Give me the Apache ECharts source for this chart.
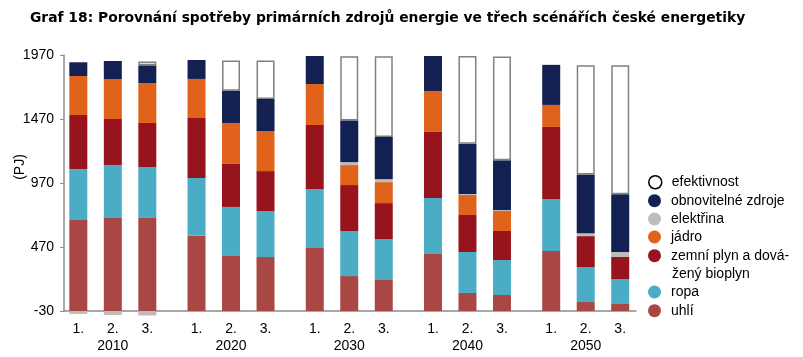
<!DOCTYPE html>
<html><head><meta charset="utf-8">
<script src="https://cdn.jsdelivr.net/npm/echarts@6/dist/echarts.min.js"></script>
<style>html,body{margin:0;padding:0;background:#fff}#c{width:803px;height:357px}</style>
</head><body><div id="c"></div>
<script>
// ---- data ----
const years = ['2010', '2020', '2030', '2040', '2050'];
const scenarioLabels = ['1.', '2.', '3.'];
const yTickLabels = ['-30', '470', '970', '1470', '1970'];
const titleText = 'Graf 18: Porovnání spotřeby primárních zdrojů energie ve třech scénářích české energetiky';
const sourceNames = ['uhlí', 'ropa', 'zemní plyn a dovážený bioplyn', 'jádro', 'elektřina', 'obnovitelné zdroje', 'efektivnost'];
// values per scenario (1., 2., 3.), for years 2010..2050 (PJ, above baseline)
const uhli        = [[711, 588, 492, 445, 469], [727, 430, 273, 141, 70], [727, 422, 242, 125, 55]];
const ropa        = [[398, 451, 461, 438, 406], [414, 383, 352, 320, 273], [398, 359, 320, 273, 195]];
const plyn        = [[422, 469, 500, 516, 563], [359, 336, 359, 289, 242], [344, 312, 281, 227, 172]];
const jadro       = [[305, 305, 320, 320, 172], [312, 320, 156, 156, 0], [312, 312, 164, 156, 0]];
const elektrina   = [[-23, 0, 0, 0, 0], [-31, 0, 23, 8, 23], [-35, 0, 23, 8, 39]];
const obnovitelne = [[107, 148, 219, 273, 313], [141, 252, 326, 393, 459], [138, 252, 330, 388, 451]];
const efektivnost = [[0, 0, 0, 0, 0], [0, 237, 502, 685, 852], [31, 300, 630, 812, 1008]];
const legendOrder = ['efektivnost', 'obnovitelné zdroje', 'elektřina', 'jádro', 'zemní plyn a dovážený bioplyn', 'ropa', 'uhlí'];
const gasLegendLines = ['zemní plyn a dová-', 'žený bioplyn'];

// ---- styles ----
const FONT = 'Liberation Sans, Arial, sans-serif';
const colors = {
  'uhlí': '#A94744',
  'ropa': '#4BACC6',
  'zemní plyn a dovážený bioplyn': '#97141D',
  'jádro': '#E0621B',
  'elektřina': '#BEBBBB',
  'obnovitelné zdroje': '#122052',
  'efektivnost': '#FFFFFF'
};
const valuesBySource = [uhli, ropa, plyn, jadro, elektrina, obnovitelne, efektivnost];

const BAR_W = 18, BAR_GAP_PX = 16.5;
const halfGroupPx = (3 * BAR_W + 2 * BAR_GAP_PX) / 2;
const pxPerDecade = 118.2;
const x0 = Date.UTC(2010, 0, 1);
const dec = Date.UTC(2020, 0, 1) - x0;
// axis extent (in decades from first year); ECharts v6 expands by half group width on each side
const extMinDec = -0.413 + halfGroupPx / pxPerDecade;
const extMaxDec = 4.426 - halfGroupPx / pxPerDecade;
const yearTs = years.map(y => Date.UTC(+y, 0, 1));

const series = [];
for (let s = 0; s < 3; s++) {
  sourceNames.forEach((name, k) => {
    const isEff = name === 'efektivnost';
    const ser = {
      type: 'bar',
      name: name,
      stack: 's' + s,
      barWidth: BAR_W,
      barGap: (BAR_GAP_PX / BAR_W * 100).toFixed(2) + '%',
      clip: false,
      animation: false,
      data: yearTs.map((t, i) => {
        const v = valuesBySource[k][s][i];
        return [t, (isEff && v === 0) ? null : v];
      }),
      itemStyle: isEff ? { color: '#FFFFFF', borderColor: '#808080', borderWidth: 1.5 } : { color: colors[name] },
      emphasis: { disabled: true }
    };
    if (name === 'uhlí') {
      ser.label = {
        show: true,
        position: 'bottom',
        distance: 10,
        fontFamily: FONT,
        fontSize: 14,
        lineHeight: 17,
        color: '#000',
        formatter: p => s === 1 ? scenarioLabels[s] + '\n' + years[p.dataIndex] : scenarioLabels[s]
      };
    }
    series.push(ser);
  });
}

const legendCenters = [182, 200.7, 219, 237, 255.7, 292, 310.7];
const legends = legendOrder.map((name, i) => {
  const isGas = name.startsWith('zemní');
  const item = name === 'efektivnost'
    ? { name, itemStyle: { color: '#FFFFFF', borderColor: '#000000', borderWidth: 1.5 } }
    : { name };
  return {
    left: 648,
    top: legendCenters[i] - 7,
    orient: 'vertical',
    padding: 0,
    itemWidth: 13,
    itemHeight: 13,
    icon: 'circle',
    selectedMode: false,
    data: [item],
    formatter: isGas ? () => gasLegendLines[0] : undefined,
    textStyle: { fontFamily: FONT, fontSize: 14, color: '#000', lineHeight: 14, padding: [0, 0, 0, 5] }
  };
});

const chart = echarts.init(document.getElementById('c'), null, { renderer: 'canvas' });
chart.setOption({
  animation: false,
  backgroundColor: '#fff',
  title: {
    text: titleText,
    left: 30, top: 11, padding: 0,
    textStyle: { fontFamily: 'DejaVu Sans, sans-serif', fontSize: 13.85, fontWeight: 'bold', color: '#000' }
  },
  grid: { left: 64, top: 55, width: 572, height: 256, containLabel: false, outerBoundsMode: 'none' },
  xAxis: {
    type: 'time',
    min: x0 + extMinDec * dec,
    max: x0 + extMaxDec * dec,
    axisLine: { show: true, lineStyle: { color: '#8c8c8c', width: 1.5 } },
    axisTick: { show: false },
    axisLabel: { show: false },
    splitLine: { show: false }
  },
  yAxis: {
    type: 'value',
    min: 0, max: 2000, interval: 500,
    axisLine: { show: true, lineStyle: { color: '#8c8c8c', width: 1.5 } },
    axisTick: { show: true, length: 4, lineStyle: { color: '#8c8c8c' } },
    splitLine: { show: false },
    axisLabel: {
      formatter: v => yTickLabels[Math.round(v / 500)],
      fontFamily: FONT, fontSize: 14, color: '#000', margin: 10
    }
  },
  legend: legends,
  graphic: [{
    type: 'text', x: 20, y: 167, rotation: Math.PI / 2,
    style: { text: '(PJ)', font: '14px ' + FONT, fill: '#000', align: 'center', verticalAlign: 'middle' }
  }, {
    type: 'text', x: 672, y: 274,
    style: { text: gasLegendLines[1], font: '14px ' + FONT, fill: '#000', align: 'left', verticalAlign: 'middle' }
  }],
  series: series
});
</script></body></html>
